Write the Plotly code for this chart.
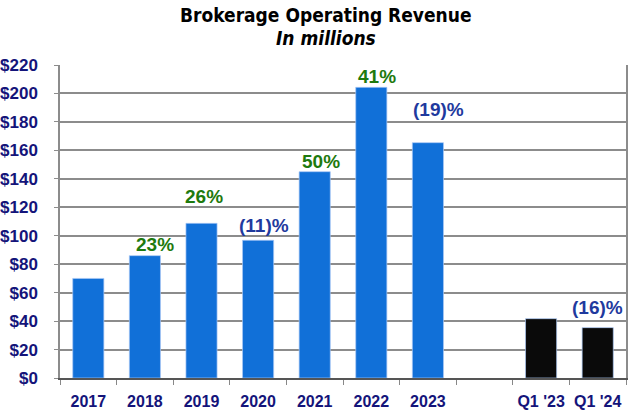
import plotly.graph_objects as go

categories = ["2017", "2018", "2019", "2020", "2021", "2022", "2023", " ", "Q1 '23", "Q1 '24"]
revenue = [70, 86, 108.7, 96.8, 145, 204.3, 165.4, None, 41.7, 35.4]
bar_colors = ["#1170D8"] * 8 + ["#0A0A0A", "#0A0A0A"]

growth_labels = [None, "23%", "26%", "(11)%", "50%", "41%", "(19)%", None, None, "(16)%"]
label_colors = [None, "#1E7A0E", "#1E7A0E", "#1F3A9E", "#1E7A0E", "#1E7A0E", "#1F3A9E", None, None, "#1F3A9E"]
label_yshift = [0, 11, 27, 15, 10, 11, 33, 0, 0, 20]
label_xshift = [0, 10, 2, 6, 6, 6, 11, 0, 0, 0]

y_ticks = list(range(0, 221, 20))
y_ticktext = [f"${v}" for v in y_ticks]

tickfam = "Liberation Sans, Arial"
titlefam = "DejaVu Sans Condensed, DejaVu Sans"

fig = go.Figure()
fig.add_trace(go.Bar(
    x=categories, y=revenue,
    marker=dict(color=bar_colors, line=dict(color="rgba(170,200,245,0.7)", width=1)),
    width=0.55, hoverinfo="x+y",
))

for i, (val, lab, col, ys, xs) in enumerate(zip(revenue, growth_labels, label_colors, label_yshift, label_xshift)):
    if lab is None:
        continue
    fig.add_annotation(
        x=i, y=val, xref="x", yref="y", text=lab, showarrow=False,
        yshift=ys, xshift=xs, yanchor="middle",
        font=dict(family=tickfam, size=19, color=col, weight="bold"),
    )

fig.add_annotation(text="Brokerage Operating Revenue", xref="paper", yref="paper",
                   x=0.47, y=1, xanchor="center", yanchor="middle", yshift=50, showarrow=False,
                   font=dict(family=titlefam, size=19, color="black", weight="bold"))
fig.add_annotation(text="<i>In millions</i>", xref="paper", yref="paper",
                   x=0.47, y=1, xanchor="center", yanchor="middle", yshift=27, showarrow=False,
                   font=dict(family=titlefam, size=19, color="black", weight="bold"))

fig.update_layout(
    width=640, height=419,
    margin=dict(l=60, r=14, t=65, b=41),
    paper_bgcolor="white", plot_bgcolor="white",
    showlegend=False,
)

fig.update_xaxes(
    type="category", categoryorder="array", categoryarray=categories,
    range=[-0.5, len(categories) - 0.5], automargin=False,
    showline=True, linecolor="#555555", linewidth=1.5,
    ticks="outside", tickson="boundaries", ticklen=5, tickcolor="#888888",
    tickfont=dict(family=tickfam, size=16, color="#14147A", weight="bold"),
    ticklabelstandoff=8,
    showgrid=False, zeroline=False,
)
fig.update_yaxes(
    range=[0, 220], tickvals=y_ticks, ticktext=y_ticktext, automargin=False,
    showgrid=True, gridcolor="#8C8C8C", gridwidth=1.5,
    showline=True, linecolor="#8C8C8C", linewidth=1.5, mirror=True,
    ticks="outside", ticklen=4, tickcolor="#8C8C8C",
    tickfont=dict(family=tickfam, size=17, color="#14147A", weight="bold"),
    ticklabelstandoff=13,
    zeroline=False,
)

fig.write_html("out.html", config={"displayModeBar": False},
               post_script="document.body.style.margin='0px';")
